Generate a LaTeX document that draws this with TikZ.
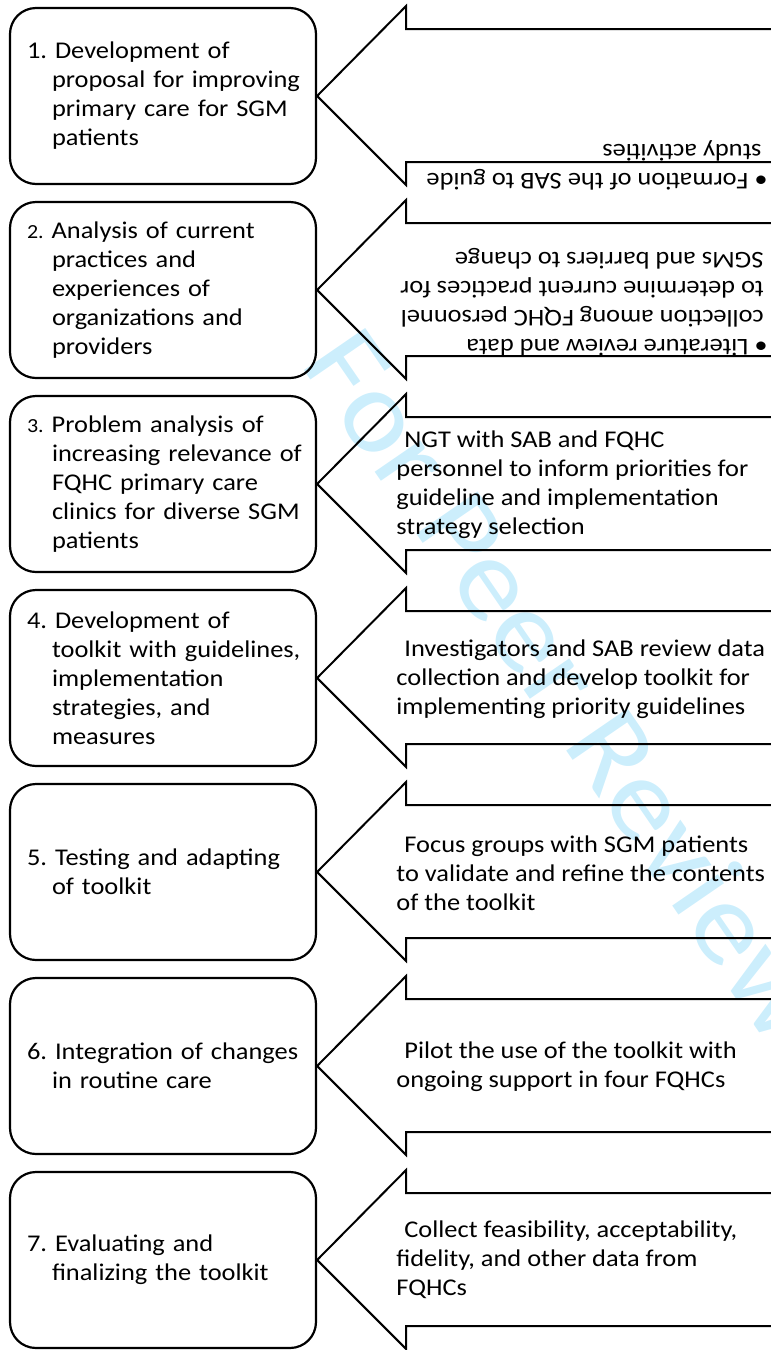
\documentclass[tikz,border=0pt]{standalone}
\usepackage{fontspec}
\setmainfont{Carlito}[FakeStretch=1.1]
\usepackage{xcolor}
\usepackage{tikz}

\definecolor{peerblue}{RGB}{204,238,252}
\newcommand{\hg}{\hspace*{15.5pt}}
\newcommand{\fst}{\hspace*{3pt}}
\newcommand{\smallnum}[1]{{\fontsize{10pt}{14.5pt}\selectfont #1}}
\frenchspacing
\hyphenpenalty=10000

\begin{document}
\begin{tikzpicture}[x=0.5pt, y=-0.5pt,
    phase/.style={draw, rounded corners=13pt, line width=1.1pt,
        minimum width=153pt, minimum height=88pt, text width=142pt,
        inner xsep=5.5pt, align=left, font=\fontsize{12pt}{14.5pt}\selectfont},
    activity/.style={anchor=west, inner sep=0pt, align=left,
        font=\fontsize{12pt}{14.5pt}\selectfont},
    blockarrow/.style={draw, line width=1pt, line join=miter}]
    \useasboundingbox (0, 0) rectangle (771, 1350);
    \clip (0, 0) rectangle (771, 1350);

    % watermark behind everything
    \node[text=peerblue, rotate=-55.5, font=\fontsize{58pt}{62pt}\selectfont] at (568, 684) (mark) {For Peer Review};

    % phases
    \node[phase] at (163, 96) (p1) {\fst 1. Development of\\ \hg proposal for improving\\ \hg primary care for SGM\\ \hg patients};
    \node[phase] at (163, 290) (p2) {\fst\smallnum{2.} Analysis of current\\ \hg practices and\\ \hg experiences of\\ \hg organizations and\\ \hg providers};
    \node[phase] at (163, 484) (p3) {\fst\smallnum{3.} Problem analysis of\\ \hg increasing relevance of\\ \hg FQHC primary care\\ \hg clinics for diverse SGM\\ \hg patients};
    \node[phase] at (163, 678) (p4) {\fst 4. Development of\\ \hg toolkit with guidelines,\\ \hg implementation\\ \hg strategies, and\\ \hg measures};
    \node[phase] at (163, 872) (p5) {\fst 5. Testing and adapting\\ \hg of toolkit};
    \node[phase] at (163, 1066) (p6) {\fst 6. Integration of changes\\ \hg in routine care};
    \node[phase] at (163, 1260) (p7) {\fst 7. Evaluating and\\ \hg finalizing the toolkit};

    % block arrows
    \draw[blockarrow] (p1.east) ++(500, -67) -- ++(-411, 0) -- ++(0, -23) -- (p1.east) -- ++(89, 89) -- ++(0, -23) -- ++(411, 0);
    \draw[blockarrow] (p2.east) ++(500, -67) -- ++(-411, 0) -- ++(0, -23) -- (p2.east) -- ++(89, 89) -- ++(0, -23) -- ++(411, 0);
    \draw[blockarrow] (p3.east) ++(500, -67) -- ++(-411, 0) -- ++(0, -23) -- (p3.east) -- ++(89, 89) -- ++(0, -23) -- ++(411, 0);
    \draw[blockarrow] (p4.east) ++(500, -67) -- ++(-411, 0) -- ++(0, -23) -- (p4.east) -- ++(89, 89) -- ++(0, -23) -- ++(411, 0);
    \draw[blockarrow] (p5.east) ++(500, -67) -- ++(-411, 0) -- ++(0, -23) -- (p5.east) -- ++(89, 89) -- ++(0, -23) -- ++(411, 0);
    \draw[blockarrow] (p6.east) ++(500, -67) -- ++(-411, 0) -- ++(0, -23) -- (p6.east) -- ++(89, 89) -- ++(0, -23) -- ++(411, 0);
    \draw[blockarrow] (p7.east) ++(500, -67) -- ++(-411, 0) -- ++(0, -23) -- (p7.east) -- ++(89, 89) -- ++(0, -23) -- ++(411, 0);

    % activities
    \node[activity, rotate=180] at (768, 165) (a1) {• Formation of the SAB to guide\\ \hspace*{3pt}study activities};
    \node[activity, rotate=180] at (768, 302) (a2) {• Literature review and data\\ \hspace*{2pt}collection among FQHC personnel\\ \hspace*{2pt}to determine current practices for\\ \hspace*{2pt}SGMs and barriers to change};
    \node[activity] at (396, 485) (a3) {\hspace*{4pt}NGT with SAB and FQHC\\ personnel to inform priorities for\\ guideline and implementation\\ strategy selection};
    \node[activity] at (396, 679) (a4) {\hspace*{4pt}Investigators and SAB review data\\ collection and develop toolkit for\\ implementing priority guidelines};
    \node[activity] at (396, 873) (a5) {\hspace*{4pt}Focus groups with SGM patients\\ to validate and refine the contents\\ of the toolkit};
    \node[activity] at (396, 1067) (a6) {\hspace*{4pt}Pilot the use of the toolkit with\\ ongoing support in four FQHCs};
    \node[activity] at (396, 1260) (a7) {\hspace*{4pt}Collect feasibility, acceptability,\\ fidelity, and other data from\\ FQHCs};
\end{tikzpicture}
\end{document}
